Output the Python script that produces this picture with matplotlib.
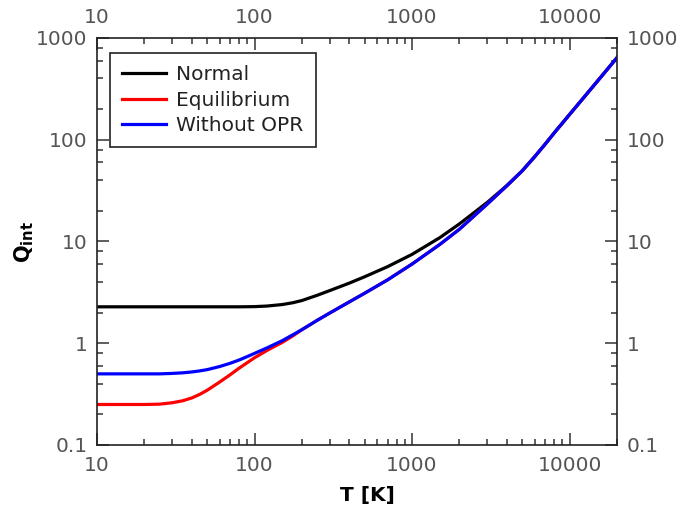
import matplotlib
matplotlib.use("Agg")
import matplotlib.pyplot as plt
from matplotlib.ticker import LogLocator, FixedLocator, NullFormatter

# temperature grid [K] and partition functions
T = [10, 20, 25, 30, 35, 40, 45, 50, 60, 70, 80, 90, 100, 120, 150, 175, 200, 250,
     300, 400, 500, 700, 1000, 1500, 2000, 3000, 4000, 5000, 6000, 7000, 8000,
     10000, 12000, 15000, 20000]
q_normal = [2.28, 2.28, 2.28, 2.28, 2.28, 2.28, 2.28, 2.28, 2.28, 2.28, 2.28, 2.285,
            2.29, 2.32, 2.40, 2.50, 2.63, 2.96, 3.29, 3.9, 4.5, 5.66, 7.47, 10.9,
            14.9, 24.2, 35.5, 49.4, 68, 90.5, 117, 177, 248, 375, 640]
q_equil = [0.25, 0.25, 0.252, 0.26, 0.272, 0.29, 0.315, 0.345, 0.415, 0.49, 0.57,
           0.645, 0.72, 0.85, 1.02, 1.18, 1.36, 1.68, 1.98, 2.55, 3.1, 4.2, 6.0,
           9.35, 13.2, 23.3, 35.3, 49.4, 68, 90.5, 117, 177, 248, 375, 640]
q_noopr = [0.50, 0.50, 0.50, 0.505, 0.512, 0.522, 0.535, 0.55, 0.59, 0.635, 0.685,
           0.74, 0.795, 0.90, 1.06, 1.21, 1.36, 1.68, 1.98, 2.55, 3.1, 4.2, 6.0,
           9.35, 13.2, 23.3, 35.3, 49.4, 68, 90.5, 117, 177, 248, 375, 640]

plt.rcParams['font.family'] = 'DejaVu Sans'

fig = plt.figure(figsize=(7, 5.12), dpi=100)
ax = fig.add_axes([0.1386, 0.1309, 0.7428, 0.7949])

lw = 2.3
ax.plot(T, q_normal, color="black", lw=lw, label="Normal")
ax.plot(T, q_equil, color="red", lw=lw, label="Equilibrium")
ax.plot(T, q_noopr, color="blue", lw=lw, label="Without OPR")

ax.set_xscale("log")
ax.set_yscale("log")
ax.set_xlim(10, 20000)
ax.set_ylim(0.1, 1000)

ax.xaxis.set_major_locator(FixedLocator([10, 100, 1000, 10000]))
ax.xaxis.set_minor_locator(LogLocator(base=10, subs=[2, 3, 4, 5, 6, 7, 8, 9]))
ax.yaxis.set_major_locator(FixedLocator([0.1, 1, 10, 100, 1000]))
ax.yaxis.set_minor_locator(LogLocator(base=10, subs=[2, 4, 6, 8]))
ax.xaxis.set_minor_formatter(NullFormatter())
ax.yaxis.set_minor_formatter(NullFormatter())
ax.set_xticklabels(["10", "100", "1000", "10000"])
ax.set_yticklabels(["0.1", "1", "10", "100", "1000"])

ax.tick_params(which="both", direction="in", top=True, right=True,
               labeltop=True, labelright=True, labelsize=14.5,
               labelcolor="#555555", color="#333333", width=1.1)
ax.tick_params(which="major", length=8.5)
ax.tick_params(which="minor", length=4.3)
ax.tick_params(axis="x", which="major", pad=8)
ax.tick_params(axis="y", which="major", pad=7)
for s in ax.spines.values():
    s.set_linewidth(1.2)
    s.set_color("#222222")

ax.set_xlabel("T [K]", fontsize=14.5, fontweight="bold")
ax.xaxis.set_label_coords(0.521, -0.102)
ax.set_ylabel(r"$\mathbf{Q_{int}}$", fontsize=15)
ax.yaxis.set_label_coords(-0.117, 0.5)

leg = ax.legend(loc="upper left", bbox_to_anchor=(0.025, 0.963), borderaxespad=0,
                fontsize=14.5, handlelength=2.2, handletextpad=0.5,
                labelspacing=0.32, borderpad=0.6, fancybox=False, framealpha=1)
leg.get_frame().set_edgecolor("#222222")
leg.get_frame().set_linewidth(1.2)
for t in leg.get_texts():
    t.set_color("#222222")

fig.savefig("out.png", dpi=100)
